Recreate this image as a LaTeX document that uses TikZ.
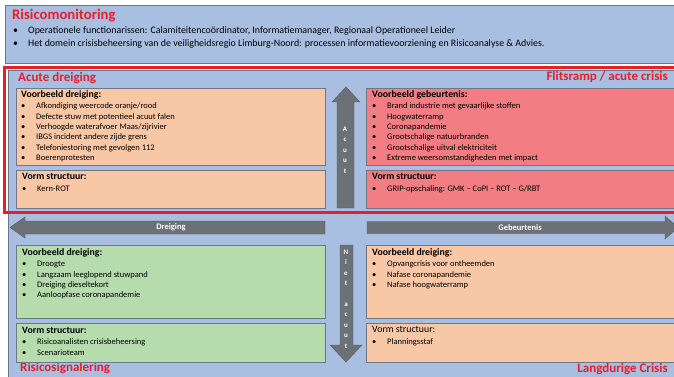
\documentclass[tikz,border=0pt]{standalone}
\usepackage{fontspec}
\setmainfont{Carlito}
\usetikzlibrary{positioning}
\definecolor{bgblue}{RGB}{168,191,225}
\definecolor{peach}{RGB}{248,199,166}
\definecolor{rosered}{RGB}{242,126,132}
\definecolor{mintgreen}{RGB}{182,220,174}
\definecolor{arrowgray}{RGB}{108,113,120}
\definecolor{titlered}{RGB}{232,30,40}
\definecolor{edgegray}{RGB}{110,118,135}
\newcommand{\itm}[1]{\makebox[15pt][l]{\textbullet}#1}
\tikzset{
  card/.style  = {rectangle, draw=edgegray, line width=0.7pt,
                  anchor=north west, inner sep=0pt},
  peachbox/.style = {card, fill=peach},
  redbox/.style   = {card, fill=rosered},
  greenbox/.style = {card, fill=mintgreen},
  cardtxt/.style  = {anchor=north west, inner sep=0pt, align=left,
                     font=\fontsize{8.5}{10.4}\selectfont},
  zone/.style  = {font=\fontsize{13}{15}\selectfont\bfseries, text=titlered, inner sep=0pt},
  pijl/.style  = {fill=arrowgray, draw=arrowgray!80!black, line width=0.4pt},
  pijltxt/.style = {font=\fontsize{8.5}{10.4}\selectfont\bfseries, text=white,
                    align=center, inner sep=0pt}
}
\newcommand{\kop}[1]{{\fontsize{9.8}{10}\selectfont\bfseries #1}\\[1.2pt]}
\begin{document}
\begin{tikzpicture}[x=1pt, y=-1pt]
  \useasboundingbox (0,0) rectangle (674,377);

  % Risicomonitoring
  \draw[fill=bgblue, draw=edgegray, line width=0.8pt] (5,5) rectangle (690,63);
  \node[zone, anchor=west, font=\fontsize{14.7}{16}\selectfont\bfseries] (monitor) at (12,16) {Risicomonitoring};
  \node[cardtxt, font=\fontsize{9.9}{13}\selectfont] (monitortxt) at (13,26)
    {\itm{Operationele functionarissen: Calamiteitencoördinator, Informatiemanager, Regionaal Operationeel Leider}\\
     \itm{Het domein crisisbeheersing van de veiligheidsregio Limburg-Noord: processen informatievoorziening en Risicoanalyse \& Advies.}};

  % achtergrond en acute zone
  \draw[fill=bgblue, draw=edgegray, line width=0.8pt] (8,70) rectangle (690,390);
  \draw[titlered, line width=3pt] (4,67.5) rectangle (690,212.5);

  \node[zone, anchor=west] (acuut) at (18,78) {Acute dreiging};
  \node[zone, anchor=east] (flits) at (668,77) {Flitsramp / acute crisis};
  \node[zone, anchor=west] (signaal) at (20,368) {Risicosignalering};
  \node[zone, anchor=east] (langdurig) at (668,369) {Langdurige Crisis};

  % boxes
  \node[peachbox, minimum width=309, minimum height=77] (ltop) at (16,88) {};
  \node[peachbox, minimum width=309, minimum height=38] (lstr) at (16,170) {};
  \node[redbox, minimum width=330, minimum height=77] (rtop) at (366,88) {};
  \node[redbox, minimum width=330, minimum height=38] (rstr) at (366,170) {};
  \node[greenbox, minimum width=309, minimum height=73] (lbot) at (16,245) {};
  \node[greenbox, minimum width=309, minimum height=39] (lbstr) at (16,323) {};
  \node[peachbox, minimum width=330, minimum height=73] (rbot) at (366,245) {};
  \node[peachbox, minimum width=330, minimum height=39] (rbstr) at (366,323) {};

  \node[cardtxt, below right=2pt and 5pt of ltop.north west] (ltoptxt)
    {\kop{Voorbeeld dreiging:}
     \itm{Afkondiging weercode oranje/rood}\\
     \itm{Defecte stuw met potentieel acuut falen}\\
     \itm{Verhoogde waterafvoer Maas/zijrivier}\\
     \itm{IBGS incident andere zijde grens}\\
     \itm{Telefoniestoring met gevolgen 112}\\
     \itm{Boerenprotesten}};
  \node[cardtxt, below right=3pt and 6pt of lstr.north west] (lstrtxt)
    {\kop{Vorm structuur:}
     \itm{Kern-ROT}};
  \node[cardtxt, below right=2pt and 6pt of rtop.north west] (rtoptxt)
    {\kop{Voorbeeld gebeurtenis:}
     \itm{Brand industrie met gevaarlijke stoffen}\\
     \itm{Hoogwaterramp}\\
     \itm{Coronapandemie}\\
     \itm{Grootschalige natuurbranden}\\
     \itm{Grootschalige uitval elektriciteit}\\
     \itm{Extreme weersomstandigheden met impact}};
  \node[cardtxt, below right=3pt and 6pt of rstr.north west] (rstrtxt)
    {\kop{Vorm structuur:}
     \itm{GRIP-opschaling: GMK -- CoPI -- ROT -- G/RBT}};
  \node[cardtxt, below right=3pt and 6pt of lbot.north west] (lbottxt)
    {\kop{Voorbeeld dreiging:}
     \itm{Droogte}\\
     \itm{Langzaam leeglopend stuwpand}\\
     \itm{Dreiging dieseltekort}\\
     \itm{Aanloopfase coronapandemie}};
  \node[cardtxt, below right=3.5pt and 6pt of lbstr.north west] (lbstrtxt)
    {\kop{Vorm structuur:}
     \itm{Risicoanalisten crisisbeheersing}\\
     \itm{Scenarioteam}};
  \node[cardtxt, below right=3pt and 6pt of rbot.north west] (rbottxt)
    {\kop{Voorbeeld dreiging:}
     \itm{Opvangcrisis voor ontheemden}\\
     \itm{Nafase coronapandemie}\\
     \itm{Nafase hoogwaterramp}};
  \node[cardtxt, below right=3.5pt and 6pt of rbstr.north west] (rbstrtxt)
    {{\fontsize{9.8}{10}\selectfont Vorm structuur:}\\[1.2pt]
     \itm{Planningsstaf}};

  % pijlen
  \draw[pijl] (337,208) -- (337,102) -- (332,102) -- (346,87) -- (360,102)
    -- (354,102) -- (354,208) -- cycle;
  \node[pijltxt, font=\fontsize{7}{10.4}\selectfont\bfseries] (acuutlbl) at (345,150) {A\\c\\u\\u\\t};

  \draw[pijl] (340,245) -- (353,245) -- (353,345) -- (362,345) -- (346,362)
    -- (330,345) -- (340,345) -- cycle;
  \node[pijltxt, font=\fontsize{7}{10.4}\selectfont\bfseries] (nietlbl) at (346,299) {N\\i\\e\\t\\[10.4pt]a\\c\\u\\u\\t};

  \draw[pijl] (325,221) -- (25,221) -- (25,217) -- (10,227.5) -- (25,238)
    -- (25,234) -- (325,234) -- cycle;
  \node[pijltxt] (dreiglbl) at (171,227.5) {Dreiging};

  \draw[pijl] (367,221.5) -- (665,221.5) -- (665,216) -- (678,227.5) -- (665,239)
    -- (665,233.5) -- (367,233.5) -- cycle;
  \node[pijltxt] (gebeurlbl) at (520,227.5) {Gebeurtenis};
\end{tikzpicture}
\end{document}
